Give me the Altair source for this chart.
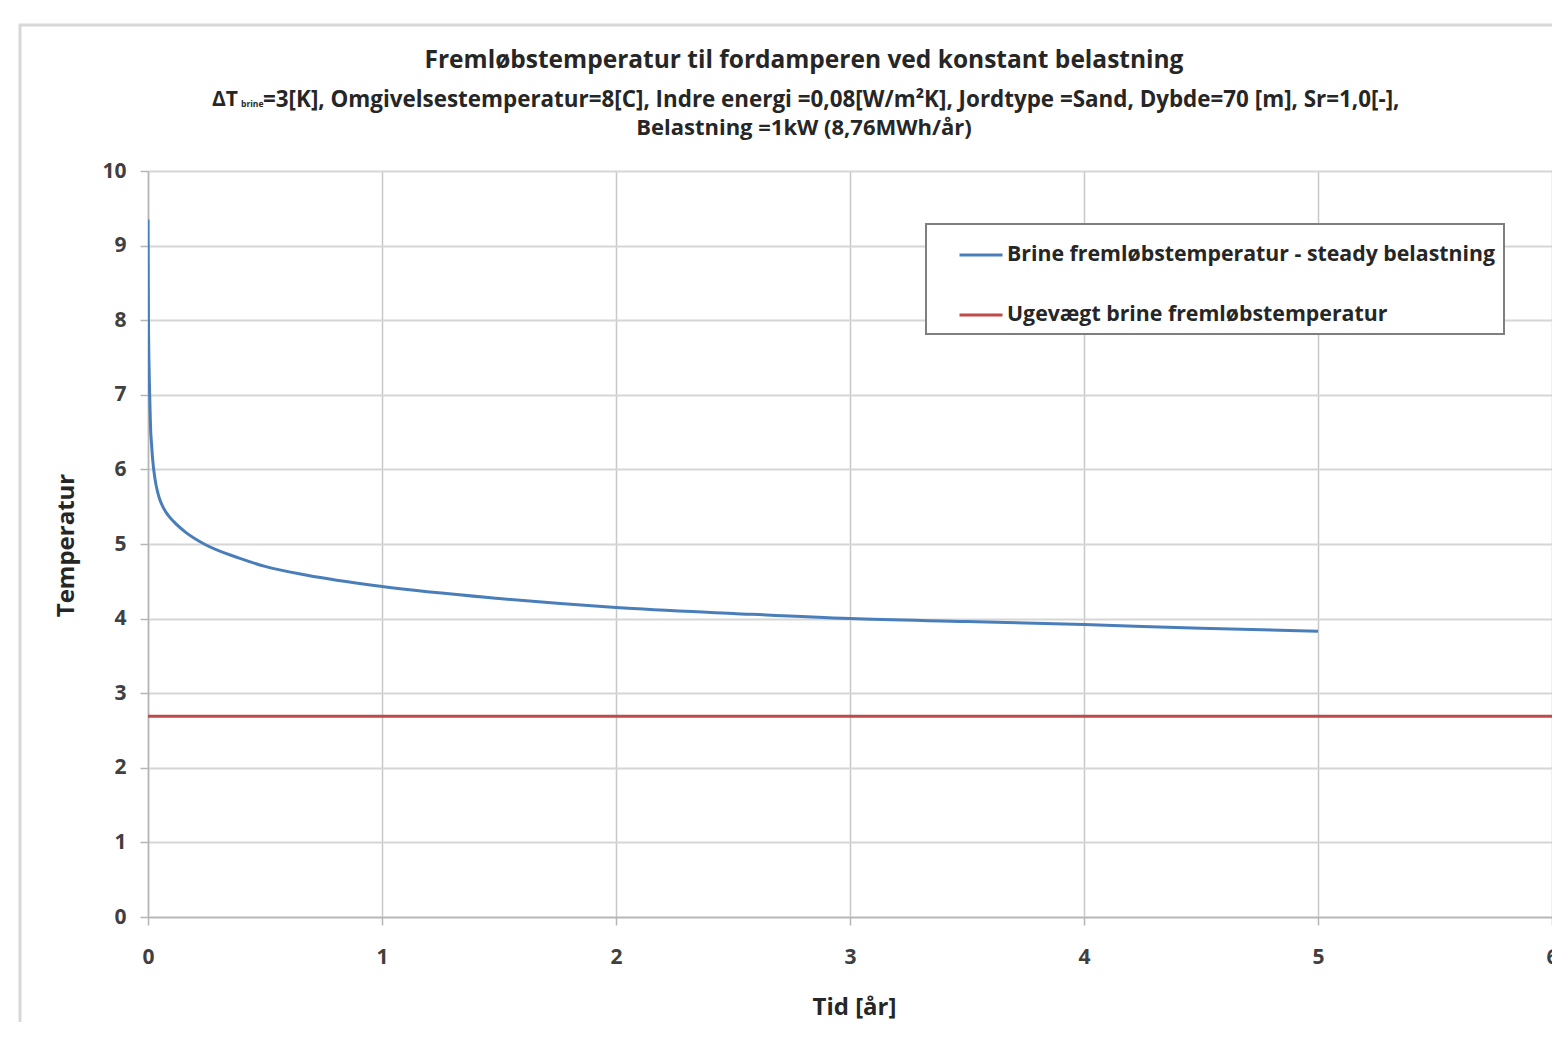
import altair as alt
import pandas as pd

# ---- data ----
tid = [0, 0.002, 0.005, 0.008, 0.011, 0.015, 0.02, 0.03, 0.04, 0.05, 0.065, 0.08, 0.11, 0.16,
       0.24, 0.39, 0.5, 0.68, 1.0, 1.5, 2.0, 2.5, 3.0, 3.5, 4.0, 4.5, 5.0]
temp = [9.35, 8.0, 7.3, 6.9, 6.55, 6.35, 6.13, 5.87, 5.71, 5.6, 5.49, 5.41, 5.30, 5.16,
        5.0, 4.81, 4.70, 4.58, 4.43, 4.27, 4.15, 4.07, 4.0, 3.96, 3.92, 3.87, 3.83]
ligevaegt_tid = [0, 6]
ligevaegt_temp = [2.69, 2.69]

series_names = ["Brine fremløbstemperatur - steady belastning",
                "Ugevægt brine fremløbstemperatur"]
series_colors = ["#4a7ebb", "#be4b48"]

x_ticks = [0, 1, 2, 3, 4, 5, 6]
y_ticks = [0, 1, 2, 3, 4, 5, 6, 7, 8, 9, 10]

title_text = "Fremløbstemperatur til fordamperen ved konstant belastning"
sub_delta = "ΔT"
sub_index = "brine"
sub_rest = "=3[K], Omgivelsestemperatur=8[C], Indre energi =0,08[W/m²K],  Jordtype =Sand, Dybde=70 [m], Sr=1,0[-],"
sub_line2 = "Belastning =1kW (8,76MWh/år)"
x_title = "Tid [år]"
y_title = "Temperatur"

FONT = "Open Sans"
TXT = "#262626"

df = pd.concat([
    pd.DataFrame({"tid": tid, "temp": temp, "serie": series_names[0]}),
    pd.DataFrame({"tid": ligevaegt_tid, "temp": ligevaegt_temp, "serie": series_names[1]}),
], ignore_index=True)

W, H = 1404, 746

lines = alt.Chart(df).mark_line(strokeWidth=3, interpolate="monotone", clip=True).encode(
    x=alt.X("tid:Q",
            scale=alt.Scale(domain=[0, 6], nice=False),
            axis=alt.Axis(values=x_ticks, format="d", title=x_title,
                          titleX=706, titleY=90, titleBaseline="middle", titleAlign="center",
                          labelPadding=21, tickSize=8, labelFlush=False)),
    y=alt.Y("temp:Q",
            scale=alt.Scale(domain=[0, 10], nice=False),
            axis=alt.Axis(values=y_ticks, format="d", title=y_title,
                          titleX=-82, titleY=374, titleAngle=270,
                          titleBaseline="middle", titleAlign="center",
                          labelPadding=14, tickSize=8, labelFlush=False)),
    color=alt.Color("serie:N",
                    scale=alt.Scale(domain=series_names, range=series_colors),
                    legend=alt.Legend(title=None, orient="none", legendX=778, legendY=53,
                                      direction="vertical", symbolType="stroke",
                                      symbolSize=1849, symbolStrokeWidth=3,
                                      symbolOffset=24,
                                      labelFont=FONT, labelFontSize=21.3,
                                      labelFontWeight="bold", labelColor=TXT,
                                      labelOffset=3, labelLimit=800, rowPadding=26,
                                      padding=8, strokeColor="#7f7f7f",
                                      fillColor="white")),
    order=alt.Order("tid:Q"),
)


def text_layer(txt, x, y, size, align="center", bold=True):
    return alt.Chart(pd.DataFrame({"t": [txt]})).mark_text(
        font=FONT, fontSize=size, fontWeight="bold" if bold else "normal",
        color=TXT, align=align, baseline="middle",
    ).encode(text="t:N", x=alt.value(x), y=alt.value(y))


title_l = text_layer(title_text, 656, -110, 24.5)
sub_a = text_layer(sub_delta, 64, -71, 21, align="left")
sub_b = text_layer(sub_index, 93, -67, 8.5, align="left")
sub_c = text_layer(sub_rest, 115, -71, 22.4, align="left")
sub_2 = text_layer(sub_line2, 656, -43, 22)

frame_src = pd.DataFrame({"k": [0]})
frame_left = alt.Chart(frame_src).mark_rule(color="#d8d8d8", strokeWidth=3).encode(
    x=alt.value(-128), y=alt.value(-147), y2=alt.value(900))
frame_top = alt.Chart(frame_src).mark_rule(color="#d8d8d8", strokeWidth=3).encode(
    x=alt.value(-129), x2=alt.value(1500), y=alt.value(-146))

chart = alt.layer(frame_left, frame_top, lines, title_l, sub_a, sub_b, sub_c, sub_2).properties(
    width=W, height=H,
    padding={"left": 140, "top": 163, "right": 0, "bottom": 105},
    autosize=alt.AutoSizeParams(type="none"),
    background="white",
).configure_view(
    stroke="transparent",
).configure_axis(
    labelFont=FONT, labelFontSize=21, labelFontWeight="bold", labelColor="#404040",
    titleFont=FONT, titleFontSize=24, titleFontWeight="bold", titleColor=TXT,
    domainColor="#b5b5b5", domainWidth=1.5, tickColor="#b5b5b5", tickWidth=1.5,
).configure_axisX(
    gridColor="#c8c8c8", gridWidth=1.5,
).configure_axisY(
    gridColor="#d6d6d6", gridWidth=2,
).configure_legend(
    strokeWidth=2,
)

chart.save("out.html", embed_options={"renderer": "svg", "actions": False})
